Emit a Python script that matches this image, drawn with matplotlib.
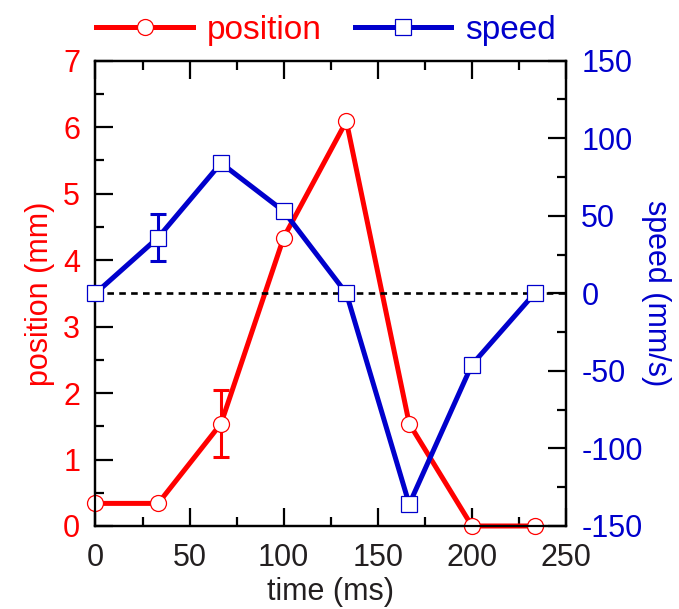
import numpy as np
import matplotlib
matplotlib.use('Agg')
import matplotlib.pyplot as plt
from matplotlib.ticker import MultipleLocator

plt.rcParams['font.family'] = ['Liberation Sans', 'DejaVu Sans']
plt.rcParams['axes.unicode_minus'] = False

# data
time_ms = [0, 33.3, 66.7, 100, 133.3, 166.7, 200, 233.3]
position_mm = [0.34, 0.34, 1.54, 4.34, 6.09, 1.54, 0.0, 0.0]
speed_mms = [0, 36, 84, 53, 0, -136, -46, 0]
pos_err_t = [66.7]
pos_err_v = [1.54]
pos_err = [0.5]
spd_err_t = [33.3]
spd_err_v = [36]
spd_err = [15]

red = '#ff0000'
blue = '#0000cc'
fs = 22

fig = plt.figure(figsize=(6.79, 6.09), dpi=100)
ax = fig.add_axes([0.1406, 0.1363, 0.693, 0.764])
ax2 = ax.twinx()

ax.errorbar(pos_err_t, pos_err_v, yerr=pos_err, fmt='none', ecolor=red,
            elinewidth=2.2, capsize=5.5, capthick=2.2, zorder=2)
l1, = ax.plot(time_ms, position_mm, '-o', color=red, lw=3.6, ms=11.5,
              mfc='white', mec=red, mew=0.9, clip_on=False, zorder=3,
              label='position')

ax2.plot([0, 250], [0, 0], ls=(0, (2.5, 2)), color='black', lw=1.9, zorder=1)
ax2.errorbar(spd_err_t, spd_err_v, yerr=spd_err, fmt='none', ecolor=blue,
             elinewidth=2.2, capsize=5.5, capthick=2.2, zorder=2)
l2, = ax2.plot(time_ms, speed_mms, '-s', color=blue, lw=3.6, ms=11.5,
               mfc='white', mec=blue, mew=0.9, clip_on=False, zorder=3,
               label='speed')

ax.set_xlim(0, 250)
ax.set_ylim(0, 7)
ax2.set_ylim(-150, 150)

ax.xaxis.set_major_locator(MultipleLocator(50))
ax.xaxis.set_minor_locator(MultipleLocator(25))
ax.yaxis.set_major_locator(MultipleLocator(1))
ax.yaxis.set_minor_locator(MultipleLocator(0.5))
ax2.yaxis.set_major_locator(MultipleLocator(50))
ax2.yaxis.set_minor_locator(MultipleLocator(25))

for a in (ax, ax2):
    for s in a.spines.values():
        s.set_linewidth(1.6)
ax.tick_params(axis='x', which='both', direction='in', top=True, width=1.6,
               labelsize=fs, labelcolor='#231f20', pad=12)
ax.tick_params(axis='y', which='both', direction='in', right=False, width=1.6,
               labelsize=fs, labelcolor=red, pad=11)
ax2.tick_params(axis='y', which='both', direction='in', width=1.6,
                labelsize=fs, labelcolor=blue, pad=11)
for a in (ax, ax2):
    a.tick_params(which='major', length=13)
    a.tick_params(which='minor', length=6.5)

ax.set_xlabel('time (ms)', fontsize=fs, color='#231f20', labelpad=3)
ax.set_ylabel('position (mm)', fontsize=fs, color=red, labelpad=6)
ax2.set_ylabel('speed (mm/s)', fontsize=fs, color=blue, rotation=270,
               labelpad=20)

leg = fig.legend(handles=[l1, l2], loc='center', bbox_to_anchor=(0.48, 0.950),
                 ncol=2, frameon=False, fontsize=24, handlelength=2.9,
                 handletextpad=0.4, columnspacing=1.0)
for t, c in zip(leg.get_texts(), [red, blue]):
    t.set_color(c)

fig.savefig('out.png', dpi=100)
